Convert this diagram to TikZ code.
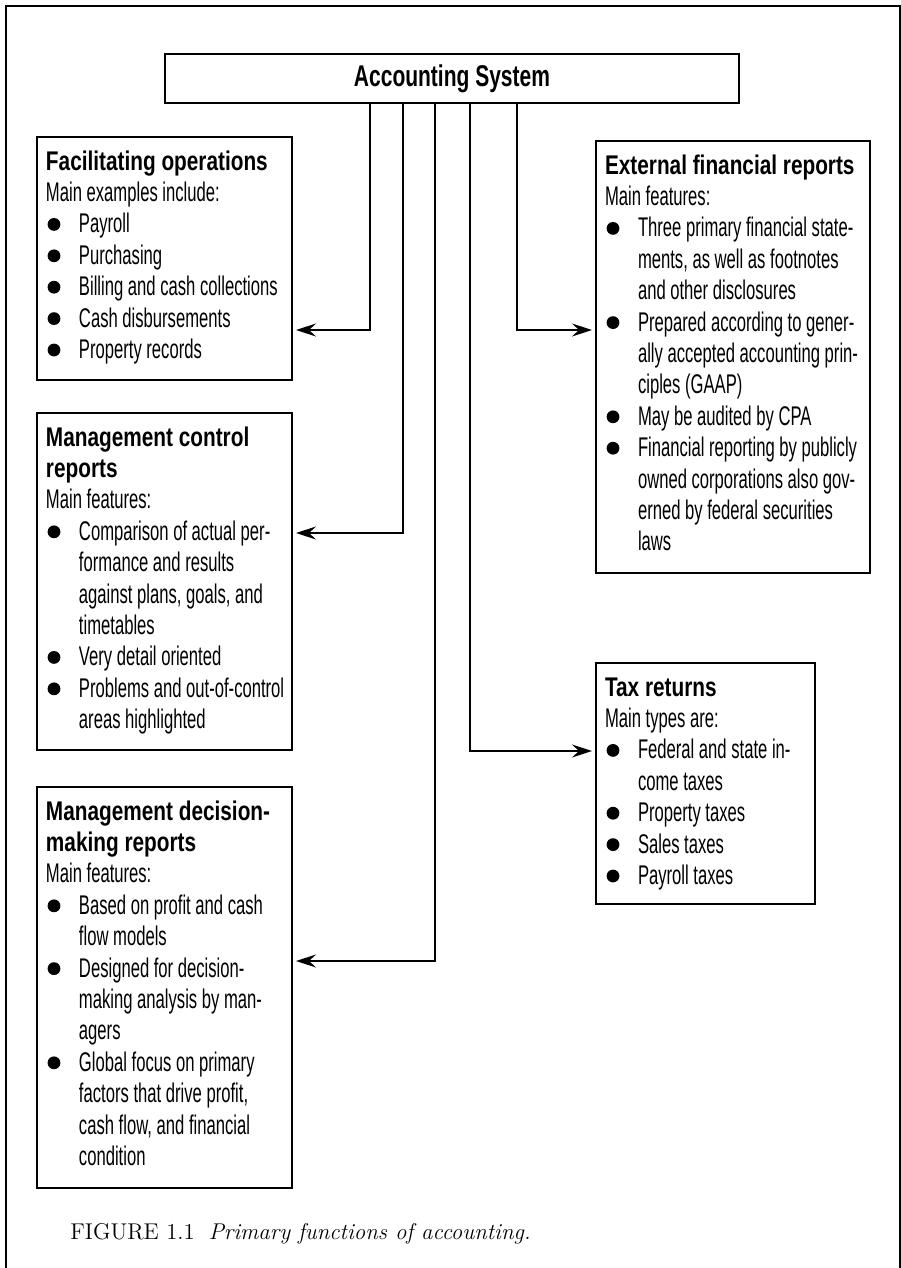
\documentclass[tikz,border=0pt]{standalone}
\usepackage{fontspec}
\usetikzlibrary{arrows.meta}

\newfontfamily\bodyfont{Liberation Sans}[FakeStretch=0.616]
\newfontfamily\headfont{Liberation Sans}[FakeStretch=0.77]
\newfontfamily\topfont{Liberation Sans}[FakeStretch=0.70]

% lines inside the boxes
\newlength{\itemind}
\setlength{\itemind}{16.5pt}
\newcommand{\boxtext}[3]{\parbox[t][#2][t]{#1}{#3}}
\newcommand{\boxtitle}[1]{\par\noindent\rule{0pt}{16.5pt}{\headfont\bfseries #1}}
\newcommand{\boxhead}[1]{\par\noindent{\headfont\bfseries #1}}
\newcommand{\boxline}[1]{\par\noindent\mbox{#1}}
\newcommand{\boxitem}[1]{\par\noindent\makebox[\itemind][l]{\hspace{0.8pt}\tikz[baseline=0pt]\fill (3.2pt,4.2pt) circle (3.2pt);}\mbox{#1}}
\newcommand{\boxcont}[1]{\par\noindent\hspace*{\itemind}\mbox{#1}}

\begin{document}
\begin{tikzpicture}[
    x=0.5pt, y=-0.5pt,
    system/.style = {draw, line width=0.8pt, minimum width=287pt, minimum height=24.5pt, inner sep=0pt, outer sep=0pt, font=\topfont\bfseries\fontsize{15}{18}\selectfont},
    panel/.style = {draw, line width=0.8pt, anchor=north west, inner xsep=4.5pt, inner ysep=0pt, outer sep=0pt, font=\bodyfont\fontsize{13.5}{15.7}\selectfont},
    feed/.style = {-{Stealth[length=10pt, width=6.5pt, inset=3.5pt]}, line width=0.8pt, shorten >=2pt},
    caption/.style = {anchor=base west, inner sep=0pt, font=\fontsize{11.4}{13}\selectfont}
]

% page frame
\useasboundingbox (0,0) rectangle (900,1268);
\draw[line width=1pt] (6,1268) -- (6,6) -- (899.5,6) -- (899.5,1268);

% the system on top
\node[system] (acc) at (452,78.5) {Accounting System};

% left column
\node[panel] (fac) at (37,137) {\boxtext{118.5pt}{121.5pt}{%
  \boxtitle{Facilitating operations}
  \boxline{Main examples include:}
  \boxitem{Payroll}
  \boxitem{Purchasing}
  \boxitem{Billing and cash collections}
  \boxitem{Cash disbursements}
  \boxitem{Property records}}};
\node[panel] (mcr) at (37,413) {\boxtext{118.5pt}{168.5pt}{%
  \boxtitle{Management control}
  \boxhead{reports}
  \boxline{Main features:}
  \boxitem{Comparison of actual per-}
  \boxcont{formance and results}
  \boxcont{against plans, goals, and}
  \boxcont{timetables}
  \boxitem{Very detail oriented}
  \boxitem{Problems and out-of-control}
  \boxcont{areas highlighted}}};
\node[panel] (mdr) at (37,787) {\boxtext{118.5pt}{200.5pt}{%
  \boxtitle{Management decision-}
  \boxhead{making reports}
  \boxline{Main features:}
  \boxitem{Based on profit and cash}
  \boxcont{flow models}
  \boxitem{Designed for decision-}
  \boxcont{making analysis by man-}
  \boxcont{agers}
  \boxitem{Global focus on primary}
  \boxcont{factors that drive profit,}
  \boxcont{cash flow, and financial}
  \boxcont{condition}}};

% right column
\node[panel] (ext) at (596,141) {\boxtext{128pt}{216pt}{%
  \boxtitle{External financial reports}
  \boxline{Main features:}
  \boxitem{Three primary financial state-}
  \boxcont{ments, as well as footnotes}
  \boxcont{and other disclosures}
  \boxitem{Prepared according to gener-}
  \boxcont{ally accepted accounting prin-}
  \boxcont{ciples (GAAP)}
  \boxitem{May be audited by CPA}
  \boxitem{Financial reporting by publicly}
  \boxcont{owned corporations also gov-}
  \boxcont{erned by federal securities}
  \boxcont{laws}}};
\node[panel] (tax) at (596,663) {\boxtext{100.5pt}{120.5pt}{%
  \boxtitle{Tax returns}
  \boxline{Main types are:}
  \boxitem{Federal and state in-}
  \boxcont{come taxes}
  \boxitem{Property taxes}
  \boxitem{Sales taxes}
  \boxitem{Payroll taxes}}};

% connectors from the system
\draw[feed] (acc.south -| 370,0) |- (fac.east |- 0,330);
\draw[feed] (acc.south -| 403,0) |- (mcr.east |- 0,533);
\draw[feed] (acc.south -| 435,0) |- (mdr.east |- 0,961);
\draw[feed] (acc.south -| 470,0) |- (tax.west |- 0,751);
\draw[feed] (acc.south -| 517,0) |- (ext.west |- 0,330);

% caption
\node[caption] (cap) at (70,1239) {FIGURE 1.1\hspace{7pt}\textit{Primary functions of accounting.}};

\end{tikzpicture}
\end{document}
